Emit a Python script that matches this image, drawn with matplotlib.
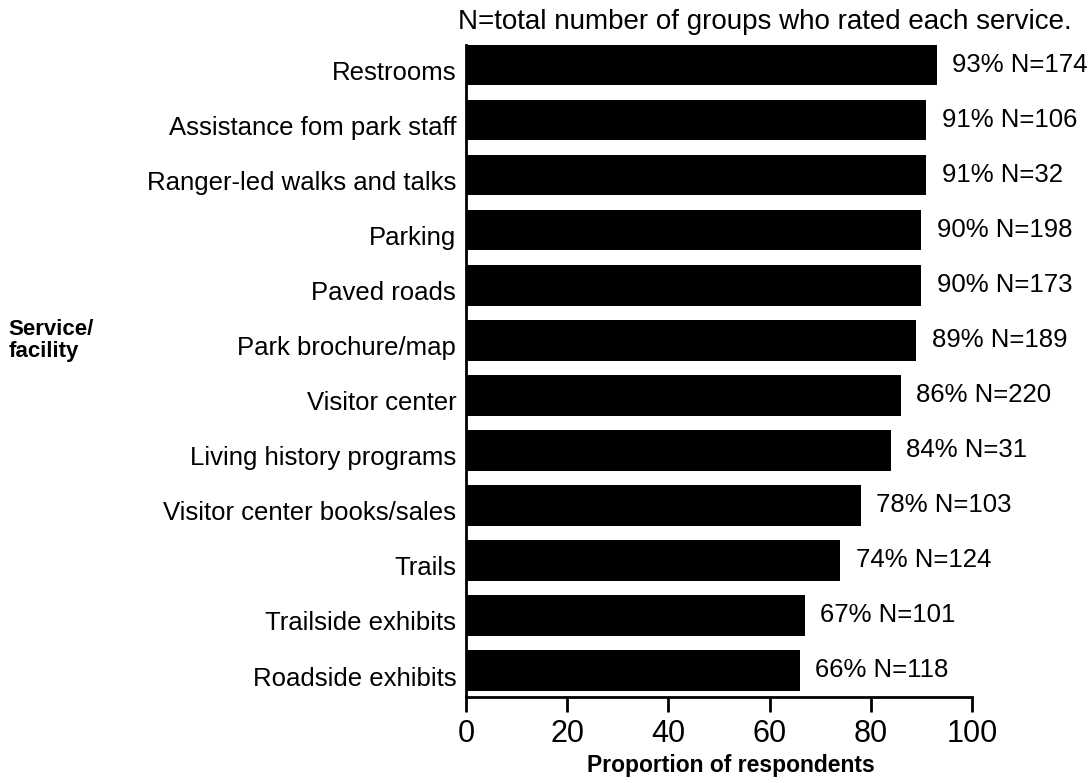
import matplotlib.pyplot as plt
import matplotlib.transforms as mtransforms
import numpy as np

plt.rcParams['font.family'] = ['Liberation Sans', 'DejaVu Sans']

services = ['Restrooms', 'Assistance fom park staff', 'Ranger-led walks and talks',
            'Parking', 'Paved roads', 'Park brochure/map', 'Visitor center',
            'Living history programs', 'Visitor center books/sales', 'Trails',
            'Trailside exhibits', 'Roadside exhibits']
percent = [93, 91, 91, 90, 90, 89, 86, 84, 78, 74, 67, 66]
n_rated = [174, 106, 32, 198, 173, 189, 220, 31, 103, 124, 101, 118]

fig = plt.figure(figsize=(10.92, 7.83), dpi=100)
ax = fig.add_axes([0.4267, 0.110, 0.4634, 0.833])

y = np.arange(len(services))[::-1]
ax.barh(y, percent, height=0.74, color='black')

# value labels right of each bar
for yi, p, n in zip(y, percent, n_rated):
    ax.annotate(f'{p}% N={n}', (p, yi), xytext=(11, 0), textcoords='offset points',
                va='center', ha='left', fontsize=18.5)

ax.set_xlim(0, 100)
ax.set_ylim(-0.48, len(services) - 1 + 0.37)
ax.set_xticks([0, 20, 40, 60, 80, 100])
ax.set_yticks(y)
ax.set_yticklabels(services, fontsize=18.5)
ax.tick_params(axis='y', length=0, pad=7)
ax.tick_params(axis='x', length=11, width=2, labelsize=22, pad=5)

# labels sit a little lower than the bar centres in the scan
shift = mtransforms.ScaledTranslation(0, -4 / 72, fig.dpi_scale_trans)
for lbl in ax.get_yticklabels():
    lbl.set_transform(lbl.get_transform() + shift)

for side in ['top', 'right']:
    ax.spines[side].set_visible(False)
ax.spines['left'].set_linewidth(2)
ax.spines['bottom'].set_linewidth(2)

ax.set_xlabel('Proportion of respondents', fontsize=16.5, fontweight='bold')
ax.xaxis.set_label_coords(0.524, -0.087)

fig.text(0.419, 0.972, 'N=total number of groups who rated each service.',
         fontsize=20, va='center', ha='left')
fig.text(0.008, 0.565, 'Service/\nfacility', fontsize=16, fontweight='bold',
         va='center', ha='left', linespacing=1.1)

fig.savefig('out.png', dpi=100)
